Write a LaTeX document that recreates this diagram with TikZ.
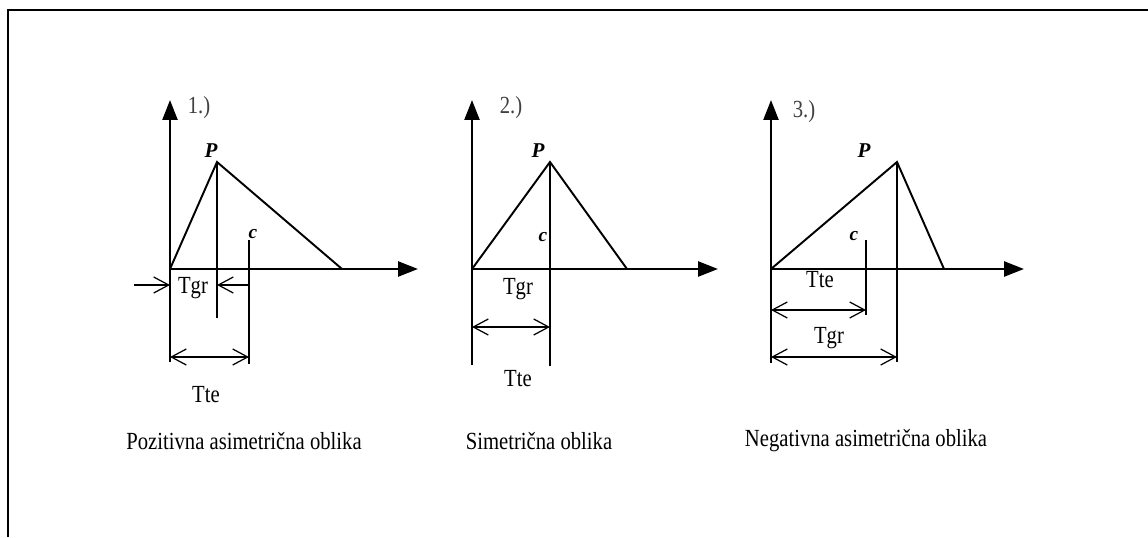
\documentclass[tikz,border=0pt]{standalone}
\usepackage{fontspec}
\setmainfont{Liberation Serif}
\newfontfamily\narrowfont[FakeStretch=0.84]{Liberation Serif}
\usetikzlibrary{arrows.meta}
\usetikzlibrary{positioning}

\begin{document}
\begin{tikzpicture}[x=0.02cm, y=-0.02cm,
    axis/.style={-{Triangle[length=0.4cm, width=0.3cm]}, line width=1.4pt},
    curve/.style={line width=1.1pt},
    guide/.style={line width=0.9pt},
    dim/.style={{Straight Barb[length=0.3cm, width=0.32cm]}-{Straight Barb[length=0.3cm, width=0.32cm]}, line width=0.7pt},
    ptr/.style={-{Straight Barb[length=0.3cm, width=0.32cm]}, line width=0.7pt},
    lbl/.style={font=\narrowfont\fontsize{14}{16}\selectfont, inner sep=1pt},
    tag/.style={font=\narrowfont\fontsize{14}{16}\selectfont, inner sep=1pt, text=black!75},
    pk/.style={font=\bfseries\itshape\fontsize{12}{14}\selectfont, inner sep=0pt},
    cc/.style={font=\bfseries\itshape\fontsize{11}{13}\selectfont, inner sep=0pt},
    ]
    \useasboundingbox (0,0) rectangle (1148,537);

    % Frame (top and left only)
    \draw [line width=1.4pt] (1148,10) -- (8,10) -- (8,537);

    % ---- 1.) positive asymmetric ----
    \coordinate (o1) at (170,269);
    \coordinate (y1) at (170,100);
    \coordinate (x1) at (418,269);
    \coordinate (b1) at (170,362);
    \coordinate (p1) at (217,162);
    \coordinate (e1) at (342,269);
    \coordinate (pb1) at (217,318);
    \coordinate (ct1) at (249,240);
    \coordinate (cb1) at (249,364);
    \coordinate (la1) at (134,285);
    \coordinate (lb1) at (170,285);
    \coordinate (ra1) at (249,285);
    \coordinate (rb1) at (217,285);
    \coordinate (tl1) at (170,357);
    \coordinate (tr1) at (249,357);
    \draw [axis] (b1) -- (y1);
    \draw [axis] (o1) -- (x1);
    \draw [curve] (o1) -- (p1) -- (e1);
    \draw [guide] (p1) -- (pb1);
    \draw [guide] (ct1) -- (cb1);
    \draw [ptr] (la1) -- (lb1);
    \draw [ptr] (ra1) -- (rb1);
    \draw [dim] (tl1) -- (tr1);
    \node [tag] (n1) at (199,108) {1.)};
    \node [pk] (P1) at (211,151) {P};
    \node [cc] (c1) at (253,234) {c};
    \node [lbl] (tgr1) at (193,288) {Tgr};
    \node [lbl] (tte1) at (206,395) {Tte};
    \node [lbl] (cap1) at (244,441) {Pozitivna asimetrična oblika};

    % ---- 2.) symmetric ----
    \coordinate (o2) at (472,269);
    \coordinate (y2) at (472,100);
    \coordinate (x2) at (718,269);
    \coordinate (b2) at (472,365);
    \coordinate (p2) at (550,162);
    \coordinate (e2) at (627,269);
    \coordinate (pb2) at (550,366);
    \coordinate (tl2) at (472,327);
    \coordinate (tr2) at (550,327);
    \draw [axis] (b2) -- (y2);
    \draw [axis] (o2) -- (x2);
    \draw [curve] (o2) -- (p2) -- (e2);
    \draw [guide] (p2) -- (pb2);
    \draw [dim] (tl2) -- (tr2);
    \node [tag] (n2) at (511,108) {2.)};
    \node [pk] (P2) at (538,151) {P};
    \node [cc] (c2) at (543,237) {c};
    \node [lbl] (tgr2) at (518,289) {Tgr};
    \node [lbl] (tte2) at (518,379) {Tte};
    \node [lbl] (cap2) at (539,441) {Simetrična oblika};

    % ---- 3.) negative asymmetric ----
    \coordinate (o3) at (771,269);
    \coordinate (y3) at (771,100);
    \coordinate (x3) at (1024,269);
    \coordinate (b3) at (771,363);
    \coordinate (p3) at (897,162);
    \coordinate (e3) at (944,269);
    \coordinate (pb3) at (897,362);
    \coordinate (ct3) at (866,240);
    \coordinate (cb3) at (866,315);
    \coordinate (tl3) at (771,310);
    \coordinate (tr3) at (866,310);
    \coordinate (gl3) at (771,357);
    \coordinate (gr3) at (897,357);
    \draw [axis] (b3) -- (y3);
    \draw [axis] (o3) -- (x3);
    \draw [curve] (o3) -- (p3) -- (e3);
    \draw [guide, line width=0.7pt] (p3) -- (pb3);
    \draw [guide] (ct3) -- (cb3);
    \draw [dim] (tl3) -- (tr3);
    \draw [dim] (gl3) -- (gr3);
    \node [tag] (n3) at (804,112) {3.)};
    \node [pk] (P3) at (864,151) {P};
    \node [cc] (c3) at (854,236) {c};
    \node [lbl, fill=white, inner xsep=4pt] (tte3) at (820,280) {Tte};
    \node [lbl] (tgr3) at (829,338) {Tgr};
    \node [lbl] (cap3) at (866,441) {Negativna asimetrična oblika};

\end{tikzpicture}
\end{document}
